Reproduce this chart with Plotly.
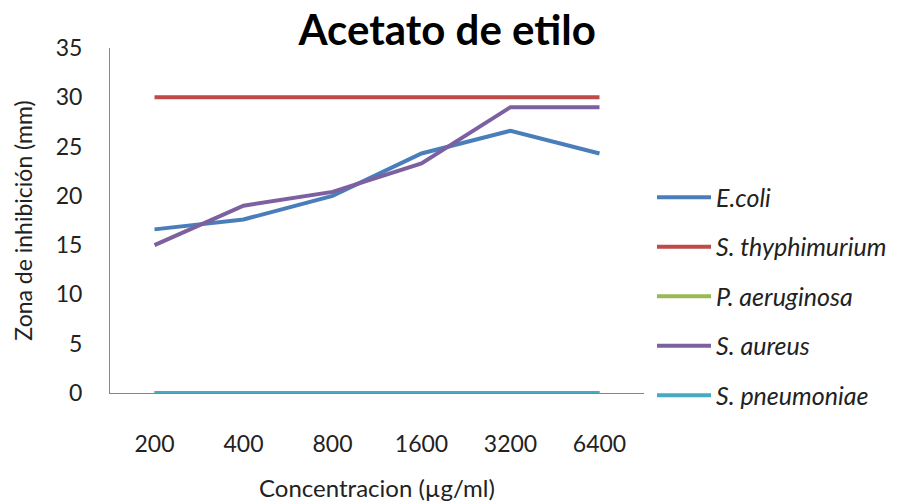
import plotly.graph_objects as go

# Concentrations tested (µg/ml) and inhibition zones (mm) per organism
concentraciones = ["200", "400", "800", "1600", "3200", "6400"]
e_coli = [16.6, 17.6, 20.0, 24.3, 26.6, 24.3]
s_thyphimurium = [30, 30, 30, 30, 30, 30]
p_aeruginosa = [0, 0, 0, 0, 0, 0]
s_aureus = [15, 19, 20.4, 23.3, 29, 29]
s_pneumoniae = [0, 0, 0, 0, 0, 0]

series = [
    ("E.coli", e_coli, "#4A7EBB"),
    ("S. thyphimurium", s_thyphimurium, "#BE4B48"),
    ("P. aeruginosa", p_aeruginosa, "#98B954"),
    ("S. aureus", s_aureus, "#7D60A0"),
    ("S. pneumoniae", s_pneumoniae, "#46AAC5"),
]

FONT = "Lato, 'Open Sans', sans-serif"

fig = go.Figure()
for i, (name, vals, color) in enumerate(series):
    fig.add_trace(go.Scatter(
        x=concentraciones, y=vals, name=f"<i>{name}</i>", mode="lines",
        line=dict(color=color, width=4),
        legendgroup=f"g{i}",
    ))

fig.update_layout(
    width=898, height=502,
    margin=dict(l=110, r=254, t=48, b=109, autoexpand=False),
    paper_bgcolor="white", plot_bgcolor="white",
    font=dict(family=FONT, size=23, color="#222222"),
    title=dict(text="<b>Acetato de etilo</b>", x=0.498, xanchor="center",
               y=0.94, yanchor="middle",
               font=dict(family=FONT, size=42, color="#000000")),
    showlegend=True,
    legend=dict(x=1.015, xanchor="left", y=0.28, yanchor="middle",
                font=dict(family=FONT, size=25, color="#222222"),
                tracegroupgap=14, itemwidth=54, bgcolor="rgba(0,0,0,0)"),
    xaxis=dict(type="category", range=[-0.5, 5.5], automargin=False,
               showgrid=False, showline=True, linecolor="#868686",
               linewidth=1, ticks="", ticklabelstandoff=30,
               tickfont=dict(size=23),
               title=dict(text="Concentracion (µg/ml)", standoff=26,
                          font=dict(size=24))),
    yaxis=dict(range=[0, 35], dtick=5, automargin=False,
               showgrid=False, showline=True, linecolor="#868686",
               linewidth=1, ticks="", ticklabelstandoff=22, zeroline=False,
               tickfont=dict(size=23),
               title=dict(text="Zona de inhibición (mm)", standoff=16,
                          font=dict(size=23))),
)

fig.write_html("out.html")
